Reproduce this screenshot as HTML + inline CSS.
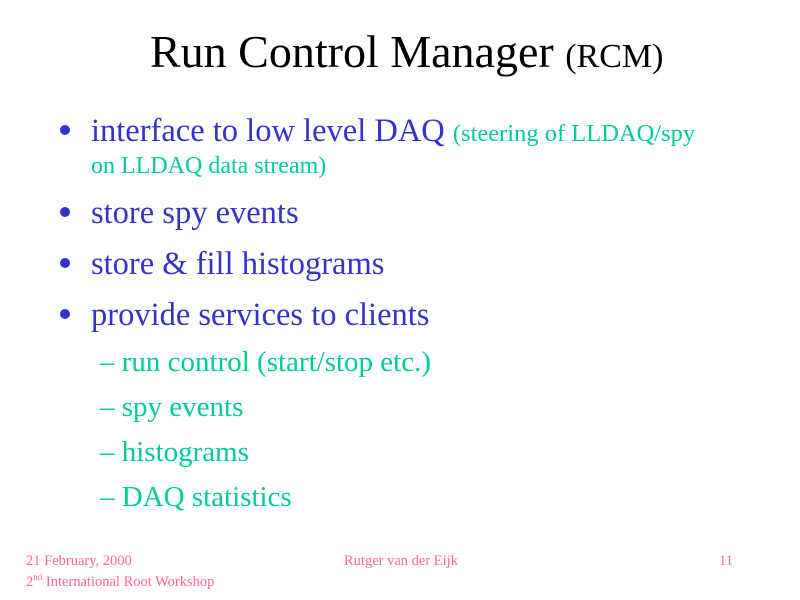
<!DOCTYPE html>
<html><head><meta charset="utf-8"><style>
body{margin:0;width:800px;height:600px;background:#fff;position:relative;overflow:hidden;font-family:"Liberation Serif",serif}
div{position:absolute;line-height:1;white-space:nowrap}
.b{color:#3333CC;font-size:32.5px}
.g{color:#00CC99}
.s{color:#00CC99;font-size:29px;left:100px}
.f{color:#FF6699;font-size:14.5px}
.d{width:10px;height:10px;border-radius:50%;background:#3333CC;left:60px}
</style></head><body>
<div style="left:150px;top:29px;font-size:46px;color:#000">Run Control Manager <span style="font-size:34px">(RCM)</span></div>
<div class="d" style="top:125px"></div>
<div class="b" style="left:91px;top:115px">interface to low level DAQ <span class="g" style="font-size:24.5px">(steering of LLDAQ/spy</span></div>
<div class="g" style="left:91px;top:154px;font-size:24px">on LLDAQ data stream)</div>
<div class="d" style="top:207px"></div>
<div class="b" style="left:91px;top:197px">store spy events</div>
<div class="d" style="top:258px"></div>
<div class="b" style="left:91px;top:248px">store &amp; fill histograms</div>
<div class="d" style="top:309px"></div>
<div class="b" style="left:91px;top:299px">provide services to clients</div>
<div class="s" style="top:348px">– run control (start/stop etc.)</div>
<div class="s" style="top:393px">– spy events</div>
<div class="s" style="top:438px">– histograms</div>
<div class="s" style="top:483px">– DAQ statistics</div>
<div class="f" style="left:26px;top:554px">21 February, 2000</div>
<div class="f" style="left:26px;top:573px">2<sup style="font-size:9px">nd</sup> International Root Workshop</div>
<div class="f" style="left:344px;top:554px">Rutger van der Eijk</div>
<div class="f" style="left:719px;top:554px">11</div>
</body></html>
